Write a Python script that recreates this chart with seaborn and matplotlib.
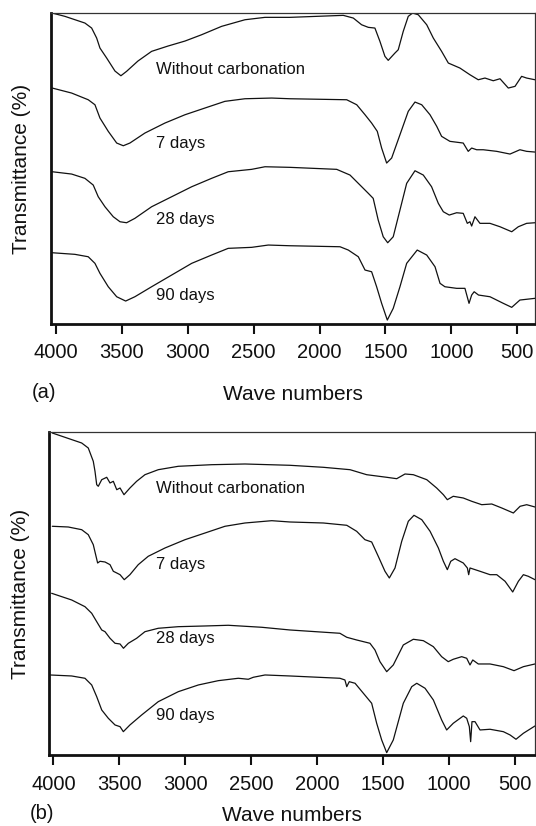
import pandas as pd
import matplotlib
matplotlib.use("Agg")
import matplotlib.pyplot as plt
import seaborn as sns

# ---- panel (a) ----
wn_a0 = [4028, 3932, 3780, 3729, 3691, 3666, 3615, 3552, 3507, 3464, 3378, 3274, 3150, 3021, 2895, 2743,
         2566, 2414, 2225, 1820, 1744, 1681, 1630, 1580, 1542, 1504, 1479, 1428, 1403, 1365, 1327, 1294,
         1251, 1187, 1137, 1074, 1023, 935, 859, 796, 745, 682, 631, 568, 517, 467, 429, 366]
t_a0 = [313, 309.7, 303, 298, 288, 278, 268, 255, 250.3, 254.7, 265, 274.7, 280, 285, 291.3, 299.7,
        306.3, 308.7, 308.7, 310.7, 308, 301.3, 298.7, 298, 284.7, 269.7, 265.7, 273, 276.3, 294.7, 309.7, 313,
        311.3, 301.3, 288, 274.7, 263, 258, 251.3, 246.3, 248, 245.3, 247.3, 238, 239.7, 249.7, 248, 246.3]

wn_a7 = [4028, 3881, 3755, 3704, 3666, 3603, 3539, 3489, 3439, 3325, 3173, 3021, 2870, 2718, 2566, 2363,
         2225, 1794, 1718, 1655, 1605, 1562, 1529, 1491, 1453, 1390, 1327, 1276, 1225, 1162, 1111, 1074,
         1011, 910, 872, 846, 808, 758, 656, 555, 480, 429, 366]
t_a7 = [238, 233, 226.3, 221.3, 208, 194.7, 183, 180.3, 183, 193, 203, 211.3, 218, 224.7, 227.3, 228,
        227.3, 226.3, 221.3, 211.3, 203, 194.7, 178, 163, 168, 191.3, 214.7, 224, 221.3, 211.3, 199.7, 189.7,
        184.7, 183, 174.7, 178, 176.3, 176.3, 174.7, 172, 176.3, 174.7, 174]

wn_a28 = [4028, 3881, 3780, 3717, 3679, 3628, 3565, 3514, 3464, 3401, 3274, 3122, 2970, 2819, 2693, 2515,
          2414, 2225, 1870, 1769, 1693, 1630, 1593, 1555, 1517, 1483, 1441, 1390, 1339, 1276, 1213, 1150,
          1099, 1061, 1016, 960, 910, 879, 859, 846, 821, 783, 707, 631, 542, 492, 429, 366]
t_a28 = [154.3, 152, 147.7, 141, 129.3, 119.3, 109.3, 104.3, 103.3, 107.7, 119.3, 129.3, 139.3, 147.7, 154.3, 156.7,
         159.3, 158.7, 156.7, 151, 141, 132.7, 127.7, 106, 89.3, 83.3, 89.3, 116, 142.7, 155.3, 151, 139.3,
         122.7, 114.3, 111, 113.3, 112.7, 102.7, 104.3, 100, 109.3, 102.7, 102.7, 99.3, 94.3, 99.3, 102.7, 103.3]

wn_a90 = [4028, 3856, 3755, 3704, 3666, 3603, 3539, 3471, 3401, 3274, 3122, 2970, 2819, 2693, 2515, 2389,
          2225, 1845, 1782, 1706, 1655, 1605, 1567, 1529, 1486, 1441, 1390, 1339, 1259, 1187, 1124, 1086,
          1049, 960, 897, 866, 846, 827, 794, 707, 606, 542, 480, 366]
t_a90 = [73.3, 71.7, 69.3, 62.7, 52.7, 39.3, 29.3, 25, 29.3, 39.3, 51, 62.7, 71, 77.7, 78.7, 81,
         80.3, 79.3, 76, 69.3, 56, 54.3, 39.3, 22.7, 6, 17.7, 39.3, 62.7, 76, 71, 59.3, 42.7,
         39.3, 37.7, 37.7, 22.7, 31, 34.3, 31, 29.3, 22.7, 18.7, 26, 27.7]

# ---- panel (b) ----
wn_b0 = [4009, 3913, 3786, 3736, 3698, 3685, 3672, 3660, 3634, 3596, 3571, 3546, 3520, 3495, 3465, 3420,
         3369, 3306, 3205, 3053, 2800, 2547, 2206, 1953, 1750, 1624, 1472, 1396, 1333, 1270, 1168, 1093,
         1042, 1012, 967, 891, 827, 751, 675, 599, 511, 460, 410, 347]
t_b0 = [322, 317.7, 312, 307, 293.7, 283.7, 270.3, 268.7, 275.3, 277.7, 272, 273.7, 265.3, 267, 260.3, 267,
        273.7, 280.3, 285.3, 288.7, 290.3, 291, 289.7, 287.7, 285.3, 280.3, 277.7, 276.3, 281, 280.3, 275.3, 267,
        260.3, 255.3, 258.7, 257, 253.7, 250.3, 251, 247, 242, 248.7, 250.3, 248]

wn_b7 = [4009, 3888, 3786, 3736, 3698, 3680, 3665, 3647, 3609, 3571, 3546, 3520, 3495, 3463, 3420, 3357,
         3281, 3154, 3002, 2850, 2699, 2547, 2344, 2206, 1953, 1775, 1700, 1637, 1586, 1536, 1485, 1452,
         1409, 1358, 1308, 1265, 1206, 1143, 1080, 1042, 1012, 986, 954, 916, 891, 860, 850, 840,
         764, 688, 637, 574, 516, 473, 435, 398, 347]
t_b7 = [228.7, 228, 225.3, 220.3, 210.3, 200.3, 192, 193.7, 193, 190.3, 183.7, 182, 180.3, 175.3, 180.3, 190.3,
        198.7, 207, 215.3, 222, 228.7, 232, 234.3, 233, 232, 229.7, 223.7, 215.3, 213, 198.7, 183.7, 177,
        187, 213.7, 233.7, 239.7, 235.3, 223.7, 207, 193.7, 185.3, 193.7, 196.3, 193.7, 192, 187, 180.3, 187,
        183.7, 180.3, 180.3, 173.7, 163, 173.7, 180.3, 178.7, 175.3]

wn_b28 = [4014, 3862, 3761, 3710, 3672, 3634, 3609, 3571, 3533, 3495, 3469, 3432, 3369, 3306, 3205, 3053,
          2851, 2674, 2420, 2206, 1827, 1775, 1700, 1599, 1561, 1523, 1472, 1422, 1346, 1270, 1194, 1118,
          1055, 1005, 967, 903, 865, 840, 819, 777, 688, 587, 506, 435, 347]
t_b28 = [161.7, 155, 148.3, 141.7, 133.3, 125, 123.3, 116.7, 111.7, 111, 106.7, 111.7, 116.7, 123.3, 126.7, 128.3,
         129, 129.7, 127.7, 125, 121.7, 117.7, 115, 111.7, 105, 93.3, 83.3, 90, 110, 115.7, 114.3, 108.3,
         98.3, 93.3, 95.7, 98.3, 96.7, 90, 95, 91, 91, 88.3, 84.3, 88.3, 91]

wn_b90 = [4027, 3862, 3761, 3710, 3672, 3634, 3584, 3533, 3495, 3470, 3420, 3331, 3205, 3053, 2901, 2750,
          2598, 2522, 2484, 2395, 2206, 1827, 1789, 1775, 1756, 1712, 1649, 1586, 1548, 1510, 1472, 1422,
          1346, 1282, 1244, 1181, 1118, 1055, 1017, 967, 891, 865, 845, 835, 825, 802, 764, 688,
          587, 536, 491, 435, 347]
t_b90 = [80, 79, 76.7, 70, 58.3, 45, 36.7, 30, 28.3, 23.3, 30, 40, 53.3, 63.3, 70, 74.3,
         76.7, 75.7, 77.7, 80, 79, 76.7, 75, 68.3, 73.3, 71.7, 61.7, 51.7, 31.7, 15, 2.3, 15,
         51.7, 68.3, 71.7, 66.7, 55, 35, 25, 31.7, 39, 36.7, 28.3, 13.3, 33.3, 33.3, 25, 25.7,
         23.3, 20, 15.7, 21.7, 29]

curve_names = ["Without carbonation", "7 days", "28 days", "90 days"]
label_y_a = [257, 183, 107, 31]
label_y_b = [266, 190, 116, 39]
xticks = [4000, 3500, 3000, 2500, 2000, 1500, 1000, 500]

panels = [
    ("(a)", [(wn_a0, t_a0), (wn_a7, t_a7), (wn_a28, t_a28), (wn_a90, t_a90)], label_y_a,
     [0.095, 0.6077, 0.903, 0.3765], (4038, 366), (2, 313), 3244, 16.5, 7, -49),
    ("(b)", [(wn_b0, t_b0), (wn_b7, t_b7), (wn_b28, t_b28), (wn_b90, t_b90)], label_y_b,
     [0.0914, 0.086, 0.9067, 0.391], (4034, 347), (0, 323), 3225, 8.5, 7.5, -42),
]

sns.set_style("ticks")
plt.rcParams['font.family'] = ['Liberation Sans', 'DejaVu Sans']

fig = plt.figure(figsize=(5.36, 8.26), dpi=100)

for tag, curves, label_y, rect, xlim, ylim, label_x, xpad, tpad, tag_dy in panels:
    ax = fig.add_axes(rect)
    for (wn, t), name, ly in zip(curves, curve_names, label_y):
        df = pd.DataFrame({"wn": wn, "t": t})
        sns.lineplot(data=df, x="wn", y="t", ax=ax, color="#111111", linewidth=0.9,
                     estimator=None, sort=False)
        ax.text(label_x, ly, name, fontsize=12, va="center", ha="left", color="#111111")
    ax.set_xlim(*xlim)
    ax.set_ylim(*ylim)
    ax.set_yticks([])
    ax.set_xticks(xticks)
    ax.set_xticklabels([str(v) for v in xticks])
    ax.tick_params(axis="x", direction="out", length=7, width=1.5, pad=tpad, labelsize=14.5,
                   colors="#111111")
    for side in ["left", "bottom"]:
        ax.spines[side].set_linewidth(2.0)
        ax.spines[side].set_color("#111111")
    for side in ["top", "right"]:
        ax.spines[side].set_linewidth(0.9)
        ax.spines[side].set_color("#333333")
    ax.set_xlabel("Wave numbers", fontsize=15, labelpad=xpad, color="#111111")
    ax.set_ylabel("Transmittance (%)", fontsize=15, labelpad=14, color="#111111")
    ax.annotate(tag, xy=(0, 0), xycoords="axes fraction", xytext=(-5, tag_dy),
                textcoords="offset points", fontsize=14.5, ha="center", va="center",
                color="#111111")

fig.savefig("out.png", dpi=100)
